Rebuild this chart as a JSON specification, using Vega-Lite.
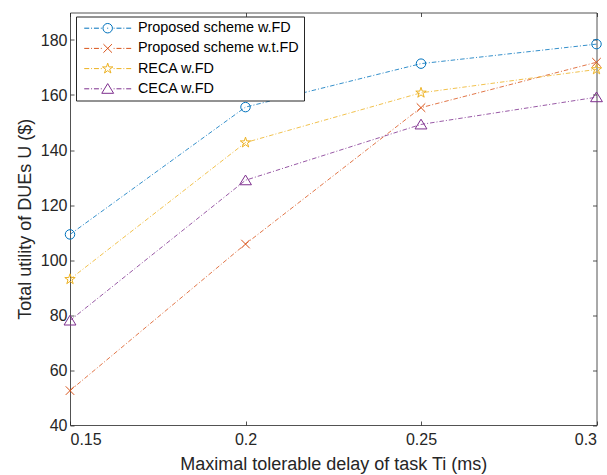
{
  "$schema": "https://vega.github.io/schema/vega-lite/v6.json",
  "width": 526.5,
  "height": 412.5,
  "autosize": {"type": "none"},
  "padding": {"left": 70, "top": 12.5, "right": 10.5, "bottom": 50},
  "background": "white",
  "config": {
    "view": {"stroke": null},
    "font": "Liberation Sans",
    "axis": {
      "grid": false,
      "domainColor": "#262626",
      "domainWidth": 0.8,
      "tickColor": "#262626",
      "tickWidth": 0.8,
      "labelColor": "#262626",
      "labelFont": "Liberation Sans",
      "labelFontSize": 16,
      "titleFont": "Liberation Sans",
      "titleFontSize": 18,
      "titleFontWeight": "normal",
      "titleColor": "#262626"
    },
    "legend": {
      "orient": "none",
      "legendX": 6,
      "legendY": 4,
      "fillColor": "white",
      "strokeColor": "#262626",
      "padding": 4.5,
      "rowPadding": 5.2,
      "symbolSize": 90,
      "symbolOffset": 20,
      "labelOffset": 23,
      "labelLimit": 400,
      "labelFont": "Liberation Sans",
      "labelFontSize": 14.4,
      "labelColor": "black",
      "symbolStrokeWidth": 1
    }
  },
  "data": {
    "values": [
      {"x": 0.15, "y": 109.3, "s": "Proposed scheme w.FD"},
      {"x": 0.2, "y": 155.6, "s": "Proposed scheme w.FD"},
      {"x": 0.25, "y": 171.4, "s": "Proposed scheme w.FD"},
      {"x": 0.3, "y": 178.5, "s": "Proposed scheme w.FD"},
      {"x": 0.15, "y": 52.5, "s": "Proposed scheme w.t.FD"},
      {"x": 0.2, "y": 105.8, "s": "Proposed scheme w.t.FD"},
      {"x": 0.25, "y": 155.4, "s": "Proposed scheme w.t.FD"},
      {"x": 0.3, "y": 171.9, "s": "Proposed scheme w.t.FD"},
      {"x": 0.15, "y": 93.0, "s": "RECA w.FD"},
      {"x": 0.2, "y": 142.7, "s": "RECA w.FD"},
      {"x": 0.25, "y": 160.8, "s": "RECA w.FD"},
      {"x": 0.3, "y": 169.3, "s": "RECA w.FD"},
      {"x": 0.15, "y": 78.0, "s": "CECA w.FD"},
      {"x": 0.2, "y": 129.0, "s": "CECA w.FD"},
      {"x": 0.25, "y": 149.3, "s": "CECA w.FD"},
      {"x": 0.3, "y": 159.2, "s": "CECA w.FD"}
    ]
  },
  "resolve": {"axis": {"x": "independent", "y": "independent"}},
  "encoding": {
    "color": {
      "field": "s", "type": "nominal",
      "scale": {"domain": ["Proposed scheme w.FD", "Proposed scheme w.t.FD", "RECA w.FD", "CECA w.FD"], "range": ["#0072BD", "#D95319", "#EDB120", "#7E2F8E"]}
    }
  },
  "layer": [
    {
      "mark": {"type": "line", "strokeWidth": 0.8, "strokeDash": [4.5, 2, 1, 2]},
      "encoding": {
        "x": {
          "field": "x", "type": "quantitative",
          "scale": {"domain": [0.15, 0.3], "nice": false, "zero": false},
          "axis": {"orient": "bottom", "values": [0.15, 0.2, 0.25, 0.3], "format": "~g", "tickSize": -4, "labelPadding": 10, "title": "Maximal tolerable delay of task Ti (ms)", "titlePadding": 8}
        },
        "y": {
          "field": "y", "type": "quantitative",
          "scale": {"domain": [40, 190], "nice": false, "zero": false},
          "axis": {"orient": "left", "values": [40, 60, 80, 100, 120, 140, 160, 180], "format": "d", "tickSize": -4, "labelPadding": 7, "title": "Total utility of DUEs U ($)", "titlePadding": 6}
        }
      }
    },
    {
      "transform": [{"filter": "datum.s === 'Proposed scheme w.FD'"}],
      "mark": {"type": "point", "filled": false, "strokeWidth": 1, "size": 90, "opacity": 1, "shape": "M1,0A1,1 0 1,1 -1,0A1,1 0 1,1 1,0Z"},
      "encoding": {
        "x": {
          "field": "x", "type": "quantitative",
          "scale": {"domain": [0.15, 0.3], "nice": false, "zero": false},
          "axis": {"orient": "top", "values": [0.15, 0.2, 0.25, 0.3], "tickSize": -4, "labels": false, "title": null}
        },
        "y": {
          "field": "y", "type": "quantitative",
          "scale": {"domain": [40, 190], "nice": false, "zero": false},
          "axis": {"orient": "right", "values": [40, 60, 80, 100, 120, 140, 160, 180], "tickSize": -4, "labels": false, "title": null}
        }
      }
    },
    {
      "transform": [{"filter": "datum.s === 'Proposed scheme w.t.FD'"}],
      "mark": {"type": "point", "filled": false, "strokeWidth": 1, "size": 90, "opacity": 1, "shape": "M-0.9,-0.9L0.9,0.9M-0.9,0.9L0.9,-0.9"},
      "encoding": {
        "x": {"field": "x", "type": "quantitative", "scale": {"domain": [0.15, 0.3], "nice": false, "zero": false}, "axis": null},
        "y": {"field": "y", "type": "quantitative", "scale": {"domain": [40, 190], "nice": false, "zero": false}, "axis": null}
      }
    },
    {
      "transform": [{"filter": "datum.s === 'RECA w.FD'"}],
      "mark": {"type": "point", "filled": false, "strokeWidth": 1, "size": 90, "opacity": 1, "shape": "M0,-1.15L0.258,-0.355L1.094,-0.355L0.418,0.136L0.676,0.93L0,0.439L-0.676,0.93L-0.418,0.136L-1.094,-0.355L-0.258,-0.355Z"},
      "encoding": {
        "x": {"field": "x", "type": "quantitative", "scale": {"domain": [0.15, 0.3], "nice": false, "zero": false}, "axis": null},
        "y": {"field": "y", "type": "quantitative", "scale": {"domain": [40, 190], "nice": false, "zero": false}, "axis": null}
      }
    },
    {
      "transform": [{"filter": "datum.s === 'CECA w.FD'"}],
      "mark": {"type": "point", "filled": false, "strokeWidth": 1, "size": 90, "opacity": 1, "shape": "M0,-1.1L1.25,0.95L-1.25,0.95Z"},
      "encoding": {
        "x": {"field": "x", "type": "quantitative", "scale": {"domain": [0.15, 0.3], "nice": false, "zero": false}, "axis": null},
        "y": {"field": "y", "type": "quantitative", "scale": {"domain": [40, 190], "nice": false, "zero": false}, "axis": null}
      }
    },
    {
      "transform": [{"filter": "false"}],
      "mark": {"type": "point", "filled": false, "strokeWidth": 1, "size": 90, "opacity": 1},
      "encoding": {
        "x": {"field": "x", "type": "quantitative", "scale": {"domain": [0.15, 0.3], "nice": false, "zero": false}, "axis": null},
        "y": {"field": "y", "type": "quantitative", "scale": {"domain": [40, 190], "nice": false, "zero": false}, "axis": null},
        "shape": {
          "field": "s", "type": "nominal",
          "scale": {
            "domain": ["Proposed scheme w.FD", "Proposed scheme w.t.FD", "RECA w.FD", "CECA w.FD"],
            "range": [
              "M-4.95,0H-3.9M-3.5,0H-3.3M-2.9,0H-1.85M-1.45,0H-1.25M-0.1,0H0.1M1.25,0H1.45M1.85,0H2.9M3.3,0H3.5M3.9,0H4.95M1,0A1,1 0 1,1 -1,0A1,1 0 1,1 1,0Z",
              "M-4.95,0H-3.9M-3.5,0H-3.3M-2.9,0H-1.85M-1.45,0H-1.25M-0.1,0H0.1M1.25,0H1.45M1.85,0H2.9M3.3,0H3.5M3.9,0H4.95M-0.9,-0.9L0.9,0.9M-0.9,0.9L0.9,-0.9",
              "M-4.95,0H-3.9M-3.5,0H-3.3M-2.9,0H-1.85M-1.45,0H-1.25M1.25,0H1.45M1.85,0H2.9M3.3,0H3.5M3.9,0H4.95M0,-1.15L0.258,-0.355L1.094,-0.355L0.418,0.136L0.676,0.93L0,0.439L-0.676,0.93L-0.418,0.136L-1.094,-0.355L-0.258,-0.355Z",
              "M-4.95,0H-3.9M-3.5,0H-3.3M-2.9,0H-1.85M-1.45,0H-1.25M1.25,0H1.45M1.85,0H2.9M3.3,0H3.5M3.9,0H4.95M0,-1.1L1.25,0.95L-1.25,0.95Z"
            ]
          },
          "legend": {"title": null, "labelExpr": "datum.label + '\u00a0\u00a0'"}
        }
      }
    }
  ]
}
